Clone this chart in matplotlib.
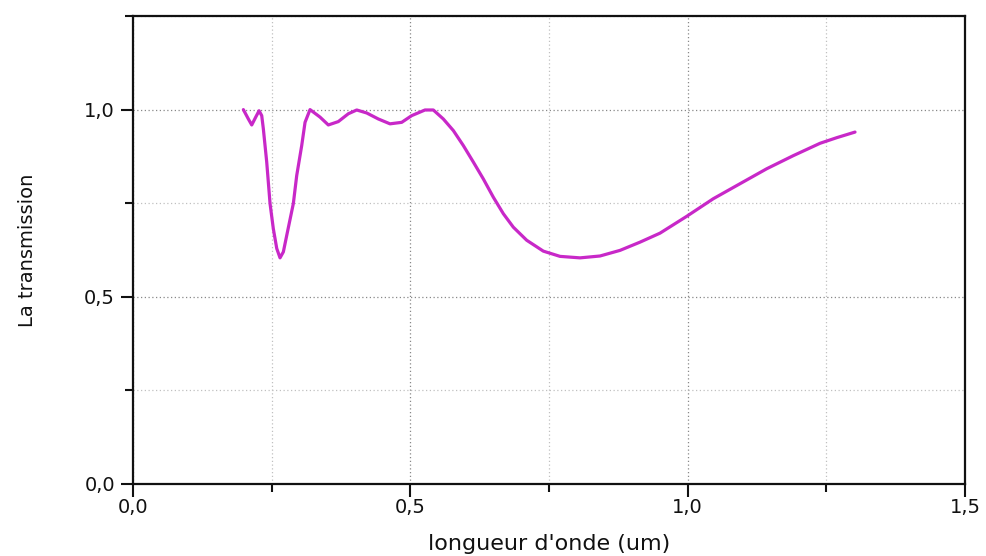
import matplotlib
matplotlib.use("Agg")
import matplotlib.pyplot as plt
from matplotlib.ticker import MultipleLocator, FuncFormatter

wavelength = [0.1989, 0.2079, 0.2140, 0.2212, 0.2272, 0.2320, 0.2349, 0.2410, 0.2470,
              0.2529, 0.2591, 0.2650, 0.2710, 0.2771, 0.2890, 0.2951, 0.3041, 0.3101,
              0.3191, 0.3371, 0.3521, 0.3701, 0.3882, 0.4033, 0.4213, 0.4422, 0.4633,
              0.4844, 0.5025, 0.5264, 0.5414, 0.5594, 0.5775, 0.5955, 0.6135, 0.6315,
              0.6496, 0.6676, 0.6856, 0.7098, 0.7397, 0.7698, 0.8059, 0.8419, 0.8780,
              0.9141, 0.9501, 0.9983, 1.0462, 1.0943, 1.1425, 1.1904, 1.2386, 1.2687,
              1.3017]
transmission = [1.000, 0.975, 0.959, 0.980, 0.997, 0.984, 0.949, 0.860, 0.749,
                0.682, 0.629, 0.604, 0.620, 0.664, 0.749, 0.824, 0.904, 0.966,
                1.000, 0.980, 0.959, 0.968, 0.989, 0.999, 0.991, 0.975, 0.962,
                0.966, 0.984, 0.999, 0.999, 0.975, 0.944, 0.904, 0.860, 0.815,
                0.766, 0.722, 0.686, 0.651, 0.622, 0.608, 0.604, 0.609, 0.624,
                0.646, 0.670, 0.715, 0.762, 0.802, 0.842, 0.877, 0.910, 0.925,
                0.940]

plt.rcParams['font.family'] = ['DejaVu Sans']

fig = plt.figure(figsize=(9.87, 5.56), dpi=100)
ax = fig.add_axes([0.1348, 0.1295, 0.8429, 0.8417])

ax.plot(wavelength, transmission, color='#c828c8', lw=2.3,
        solid_joinstyle='round', solid_capstyle='round')

ax.set_xlim(0, 1.5)
ax.set_ylim(0, 1.25)
ax.xaxis.set_major_locator(MultipleLocator(0.5))
ax.xaxis.set_minor_locator(MultipleLocator(0.25))
ax.yaxis.set_major_locator(MultipleLocator(0.5))
ax.yaxis.set_minor_locator(MultipleLocator(0.25))
fmt = FuncFormatter(lambda v, p: f"{v:.1f}".replace('.', ','))
ax.xaxis.set_major_formatter(fmt)
ax.yaxis.set_major_formatter(fmt)

ax.grid(which='major', color='#888888', linestyle=(0, (1, 2)), linewidth=0.9)
ax.grid(which='minor', color='#c0c0c0', linestyle=(0, (1, 2)), linewidth=0.9)

ax.tick_params(which='major', direction='out', length=9, width=1.5, labelsize=14,
               colors='#111111')
ax.tick_params(axis='x', which='major', pad=1)
ax.tick_params(axis='y', which='major', pad=4)
ax.tick_params(which='minor', direction='out', length=6, width=1.5, colors='#111111')
for s in ax.spines.values():
    s.set_linewidth(1.6)
    s.set_color('#111111')

ax.set_xlabel("longueur d'onde (um)", fontsize=16, labelpad=12, color='#111111')
ax.set_ylabel("La transmission", fontsize=14, labelpad=34, color='#111111')

fig.savefig("out.png", dpi=100)
